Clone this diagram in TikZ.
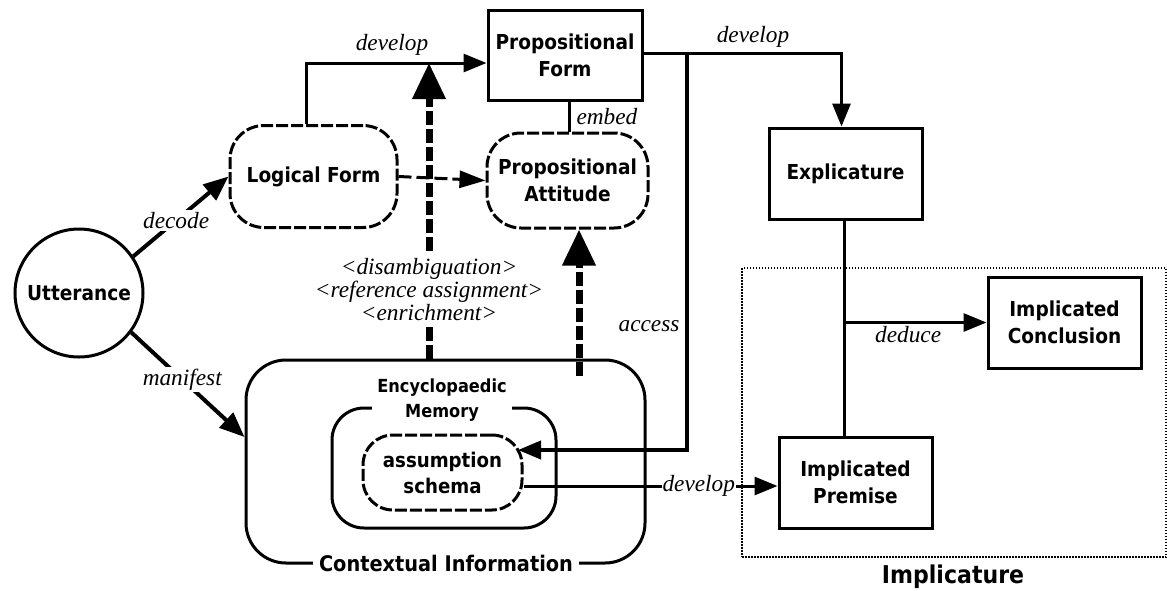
\documentclass[tikz,border=0pt]{standalone}
\usepackage{fontspec}
\setmainfont{Liberation Serif}
\newfontfamily\nodefont[FakeStretch=0.9]{DejaVu Sans}
\usetikzlibrary{arrows.meta,calc}
\tikzset{
  base/.style={line width=3pt},
  nfont/.style={font=\nodefont\bfseries\fontsize{20.6}{27}\selectfont},
  sqbox/.style={draw, base, nfont, align=center, minimum width=153pt, minimum height=91pt, inner sep=2pt},
  rdash/.style={draw, base, nfont, align=center, dash pattern=on 12pt off 3pt, inner sep=2pt},
  lbl/.style={font=\itshape\fontsize{23.3}{23}\selectfont, inner sep=2pt},
  arr/.style={base, -{Triangle[length=23pt,width=18pt]}},
  bigarr/.style={line width=7pt, dash pattern=on 14pt off 4pt, -{Triangle[length=36pt,width=32pt]}},
}
\begin{document}
\begin{tikzpicture}[x=1pt,y=-1pt]
\useasboundingbox (0,0) rectangle (1167,590);
% containers
\node[draw, base, rounded corners=40pt, minimum width=399pt, minimum height=203pt] (ctx) at (445.5,461.5) {};
\node[nfont, fill=white, inner sep=6pt, font=\nodefont\bfseries\fontsize{21.5}{27}\selectfont] (ctxl) at (446,563) {Contextual Information};
\node[draw, base, rounded corners=32pt, minimum width=224pt, minimum height=120pt] (enc) at (444,468) {};
\node[nfont, fill=white, align=center, font=\nodefont\bfseries\fontsize{18}{25}\selectfont, inner xsep=5pt, inner ysep=2pt] (encl) at (442,400) {Encyclopaedic\\Memory};
\node[rdash, rounded corners=30pt, minimum width=159pt, minimum height=75pt, font=\nodefont\bfseries\fontsize{20.2}{26}\selectfont] (schema) at (442.5,472.5) {assumption\\schema};
\node[draw, line width=1.5pt, dash pattern=on 1.5pt off 1.5pt, minimum width=424pt, minimum height=289pt] (impl) at (954,412.5) {};
\node[nfont, font=\nodefont\bfseries\fontsize{24.5}{27}\selectfont] (impll) at (953,577) {Implicature};
% nodes
\node[draw, base, circle, minimum size=128pt, nfont, inner sep=0pt] (utt) at (79,293) {Utterance};
\node[rdash, rounded corners=34pt, minimum width=167pt, minimum height=102pt] (lf) at (313.5,176.5) {Logical Form};
\node[sqbox, minimum width=154pt, minimum height=90pt] (pf) at (565,55) {Propositional\\Form};
\node[rdash, rounded corners=34pt, minimum width=161pt, minimum height=95pt] (pa) at (567.5,180.5) {Propositional\\Attitude};
\node[sqbox] (exp) at (845.5,173.5) {Explicature};
\node[sqbox] (ic) at (1064.5,322.5) {Implicated\\Conclusion};
\node[sqbox] (ip) at (855.5,482.5) {Implicated\\Premise};
% coordinates
\coordinate (dtip) at (429,63);
\coordinate (pabot) at ([xshift=11.5pt]pa.south);
\coordinate (acctip) at (518,450);
% connectors
\draw[arr] ([xshift=-7.5pt]lf.north) |- ([yshift=-8pt]pf.west);
\node[lbl] (ldev1) at (392,45) {develop};
\draw[arr] ([yshift=2pt]pf.east) -| ([xshift=-4pt]exp.north);
\node[lbl] (ldev2) at (753,37) {develop};
\draw[base] ([xshift=4pt]pf.south) -- ([xshift=4pt]pf.south |- pa.north) node[lbl, right, midway, inner sep=6pt] (lemb) {embed};
\draw[arr, dash pattern=on 13pt off 5pt, -{Triangle[length=26pt,width=17pt]}] (lf.east) -- (pa.west);
\draw[bigarr] (ctx.north -| dtip) -- (dtip);
\node[lbl, fill=white, align=center, inner sep=4pt] (ldis) at (429,290) {<disambiguation>\\<reference assignment>\\<enrichment>};
\draw[bigarr] ([yshift=-17pt]ctx.north -| pabot) -- (pabot);
\draw[line width=4pt, -{Triangle[length=23pt,width=18pt]}] ([yshift=2pt]pf.east -| 687,0) |- (acctip);
\node[lbl] (lacc) at (649,326) {access};
\draw[arr, line width=4pt, -{Triangle[length=25pt,width=20pt]}] (utt.34) -- (lf.west) node[lbl, fill=white, pos=0.45] (ldec) {decode};
\draw[arr, line width=4pt, -{Triangle[length=25pt,width=20pt]}] (utt.-37) -- ([yshift=24.5pt]ctx.west) node[lbl, fill=white, pos=0.45] (lman) {manifest};
\draw[arr] ([yshift=-13.5pt]schema.east) coordinate (s1) -- (s1 -| ip.west) node[lbl, fill=white, pos=0.69, inner sep=1pt] (ldev3) {develop};
\draw[base] ([xshift=-1.5pt]exp.south) coordinate (e1) -- (e1 |- ip.north);
\draw[arr] (e1 |- ic.west) -- (ic.west) node[lbl, below, pos=0.45] (lded) {deduce};
\end{tikzpicture}
\end{document}
